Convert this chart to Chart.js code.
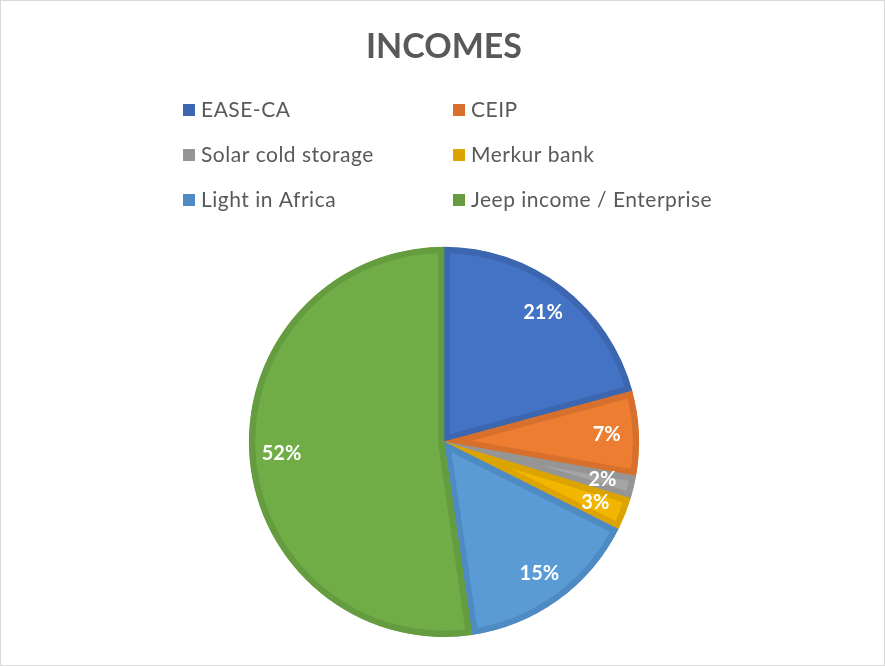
<!DOCTYPE html>
<html>
<head>
<meta charset="utf-8">
<script src="https://cdn.jsdelivr.net/npm/chart.js@4.4.0/dist/chart.umd.min.js"></script>
<style>
  html, body { margin: 0; padding: 0; background: #fff; }
  #wrap { width: 885px; height: 666px; box-sizing: border-box; border: 1px solid #d9d9d9; }
  #wrap canvas { display: block; }
</style>
</head>
<body>
<div id="wrap"><canvas id="incomes"></canvas></div>
<script>
// data
const labels = ['EASE-CA', 'CEIP', 'Solar cold storage', 'Merkur bank', 'Light in Africa', 'Jeep income / Enterprise'];
const shares = [20.8, 7.0, 1.9, 2.7, 15.3, 52.3];
const fillColors = ['#4472C4', '#ED7D31', '#A5A5A5', '#F2B500', '#5B9BD5', '#70AD47'];
const edgeColors = ['#3D66B0', '#D6702C', '#959595', '#DCA400', '#4F8BC3', '#659C40'];

const FONT = 'Lato, "Open Sans", sans-serif';

// two-column legend like the Excel one
const gridLegend = {
    id: 'gridLegend',
    afterDraw(chart){
        const ctx = chart.ctx;
        const ds = chart.data.datasets[0];
        ctx.save();
        ctx.font = '21px ' + FONT;
        ctx.letterSpacing = '0.5px';
        ctx.textBaseline = 'middle';
        ctx.textAlign = 'left';
        chart.data.labels.forEach((label, i) => {
            const col = i % 2;
            const row = Math.floor(i / 2);
            const x = 182 + col * 270;
            const y = 109 + row * 45;
            ctx.fillStyle = ds.borderColor[i];
            ctx.fillRect(x, y - 6, 12, 12);
            ctx.fillStyle = '#595959';
            ctx.fillText(label, x + 18, y);
        });
        ctx.restore();
    }
};

// percent labels inside the slices
const pctLabels = {
    id: 'pctLabels',
    afterDatasetsDraw(chart){
        const ctx = chart.ctx;
        const meta = chart.getDatasetMeta(0);
        const values = chart.data.datasets[0].data;
        const total = values.reduce((a, b) => a + b, 0);
        ctx.save();
        ctx.font = 'bold 20px ' + FONT;
        ctx.fillStyle = '#ffffff';
        ctx.textAlign = 'center';
        ctx.textBaseline = 'middle';
        meta.data.forEach((arc, i) => {
            const p = arc.getProps(['x', 'y', 'startAngle', 'endAngle', 'outerRadius'], true);
            const mid = (p.startAngle + p.endAngle) / 2;
            const r = p.outerRadius * 0.835;
            const txt = Math.round(values[i] / total * 100) + '%';
            ctx.fillText(txt, p.x + Math.cos(mid) * r, p.y + Math.sin(mid) * r);
        });
        ctx.restore();
    }
};

new Chart(document.getElementById('incomes'), {
    type: 'pie',
    data: {
        labels: labels,
        datasets: [{
            data: shares,
            backgroundColor: fillColors,
            borderColor: edgeColors,
            borderWidth: 6,
            borderAlign: 'inner',
            hoverOffset: 0
        }]
    },
    options: {
        responsive: true,
        maintainAspectRatio: false,
        animation: false,
        layout: { padding: { top: 0, bottom: 28, left: 3, right: 0 } },
        plugins: {
            legend: { display: false },
            tooltip: { enabled: false },
            title: {
                display: true,
                text: 'INCOMES',
                color: '#595959',
                font: { family: FONT, size: 34, weight: 'bold' },
                padding: { top: 26, bottom: 179 }
            }
        }
    },
    plugins: [gridLegend, pctLabels]
});
</script>
</body>
</html>
